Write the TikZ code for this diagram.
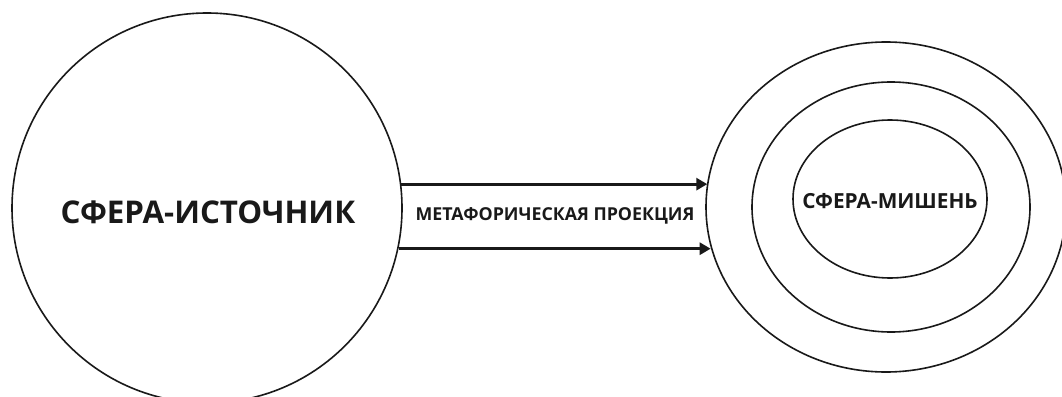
\documentclass[tikz,border=0pt]{standalone}
\usepackage{fontspec}
\setmainfont{Open Sans}
\usetikzlibrary{shapes.geometric,arrows.meta}
\tikzset{
  ring/.style={draw=black!90, line width=1.6pt, inner sep=0pt},
  arr/.style={draw=black!90, line width=3pt, -{Triangle[length=11pt,width=12pt]}},
  lbl/.style={anchor=base, inner sep=0pt, text=black!90, font=\bfseries}
}
\begin{document}
\begin{tikzpicture}[x=1pt,y=-1pt]
\useasboundingbox[fill=white] (0,0) rectangle (1062,396);
\node[ring, circle, minimum size=390pt] (src) at (207,208) {};
\node[ring, ellipse, minimum width=360pt, minimum height=330pt] (tgt) at (886,207) {};
\node[ring, ellipse, minimum width=278pt, minimum height=250pt] (mid) at (891,207) {};
\node[ring, ellipse, minimum width=194pt, minimum height=158pt] (inn) at (890,199) {};
\node[lbl, font=\bfseries\fontsize{31.3}{32}\selectfont] (srct) at (208,223) {СФЕРА-ИСТОЧНИК};
\node[lbl, font=\bfseries\fontsize{20.8}{22}\selectfont] (tgtt) at (890,208) {СФЕРА-МИШЕНЬ};
\node[lbl, font=\bfseries\fontsize{17.8}{18}\selectfont] (proj) at (555,220) {МЕТАФОРИЧЕСКАЯ ПРОЕКЦИЯ};
\draw[arr] (src.7) -- (src.7 -| tgt.172);
\draw[arr] (src.-12) -- (src.-12 -| tgt.193);
\end{tikzpicture}
\end{document}
